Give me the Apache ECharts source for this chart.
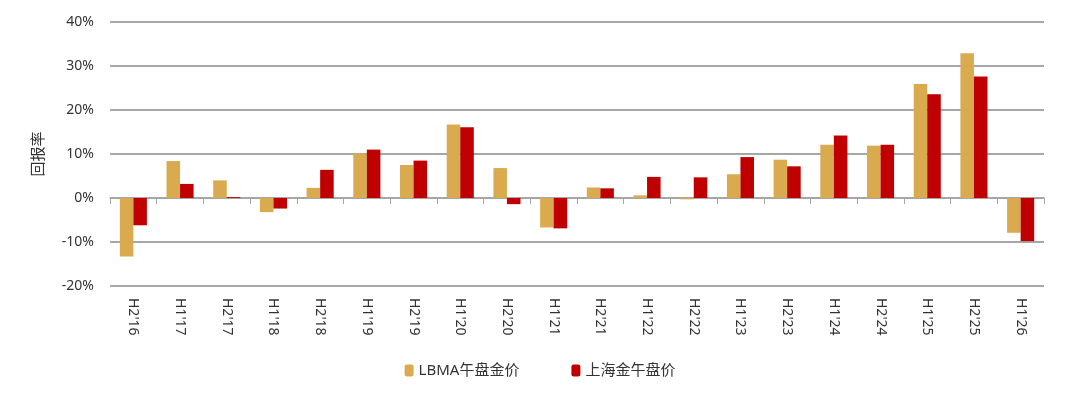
<!DOCTYPE html>
<html>
<head>
    <meta charset="utf-8">
    <title>回报率</title>
    <script src="https://cdn.jsdelivr.net/npm/echarts@6/dist/echarts.min.js"></script>
    <style>
        html, body, #main {
            width: 100%;
            height: 100%;
            margin: 0;
            background: #fff;
        }
    </style>
</head>
<body>
    <div id="main"></div>
    <script type="text/javascript">
        // 半年度
        var categories = ["H2'16", "H1'17", "H2'17", "H1'18", "H2'18", "H1'19", "H2'19", "H1'20", "H2'20", "H1'21",
                          "H2'21", "H1'22", "H2'22", "H1'23", "H2'23", "H1'24", "H2'24", "H1'25", "H2'25", "H1'26"];
        var lbma = [-13.3, 8.4, 4.0, -3.2, 2.3, 10.1, 7.5, 16.7, 6.8, -6.7,
                    2.4, 0.6, -0.3, 5.4, 8.7, 12.1, 11.9, 25.9, 32.9, -7.9];
        var shanghai = [-6.2, 3.2, 0.2, -2.4, 6.4, 11.0, 8.5, 16.1, -1.4, -6.9,
                        2.2, 4.8, 4.7, 9.3, 7.2, 14.2, 12.1, 23.6, 27.6, -9.8];
        var yTicks = [-20, -10, 0, 10, 20, 30, 40];

        var font = "'Noto Sans', 'Noto Sans CJK SC', sans-serif";
        var myChart = echarts.init(document.getElementById('main'));

        var option = {
            animation: false,
            textStyle: { fontFamily: font },
            grid: { left: 110, right: 36, top: 22, bottom: 112 },
            legend: {
                bottom: 15,
                left: 'center',
                itemWidth: 9,
                itemHeight: 12,
                itemGap: 52,
                textStyle: { fontSize: 15, color: '#333', fontFamily: font },
                data: ['LBMA午盘金价', '上海金午盘价']
            },
            xAxis: [{
                type: 'category',
                data: categories,
                position: 'bottom',
                axisLine: { show: false, onZero: false },
                axisTick: { show: false },
                axisLabel: {
                    rotate: -90,
                    fontSize: 14,
                    color: '#333',
                    margin: 12,
                    fontFamily: font
                }
            }, {
                type: 'category',
                data: categories,
                position: 'bottom',
                axisLine: { show: true, onZero: true, lineStyle: { color: '#A6A6A6', width: 1.5 } },
                axisTick: { show: true, length: 6, lineStyle: { color: '#A6A6A6' } },
                axisLabel: { show: false }
            }],
            yAxis: {
                type: 'value',
                min: yTicks[0],
                max: yTicks[yTicks.length - 1],
                interval: 10,
                name: '回报率',
                nameLocation: 'middle',
                nameGap: 64,
                nameRotate: 90,
                nameTextStyle: { fontSize: 15, color: '#333', fontFamily: font },
                axisLine: { show: false },
                axisTick: { show: false },
                axisLabel: {
                    formatter: '{value}%',
                    fontSize: 14,
                    color: '#333',
                    margin: 16,
                    fontFamily: font
                },
                splitLine: { lineStyle: { color: '#A6A6A6', width: 2 } }
            },
            series: [{
                name: 'LBMA午盘金价',
                type: 'bar',
                xAxisIndex: 0,
                data: lbma,
                barGap: '0%',
                barCategoryGap: '42%',
                itemStyle: { color: '#D9AB4E' }
            }, {
                name: '上海金午盘价',
                type: 'bar',
                xAxisIndex: 0,
                data: shanghai,
                itemStyle: { color: '#C00000' }
            }]
        };
        myChart.setOption(option);
        window.onresize = myChart.resize;
    </script>
</body>
</html>
